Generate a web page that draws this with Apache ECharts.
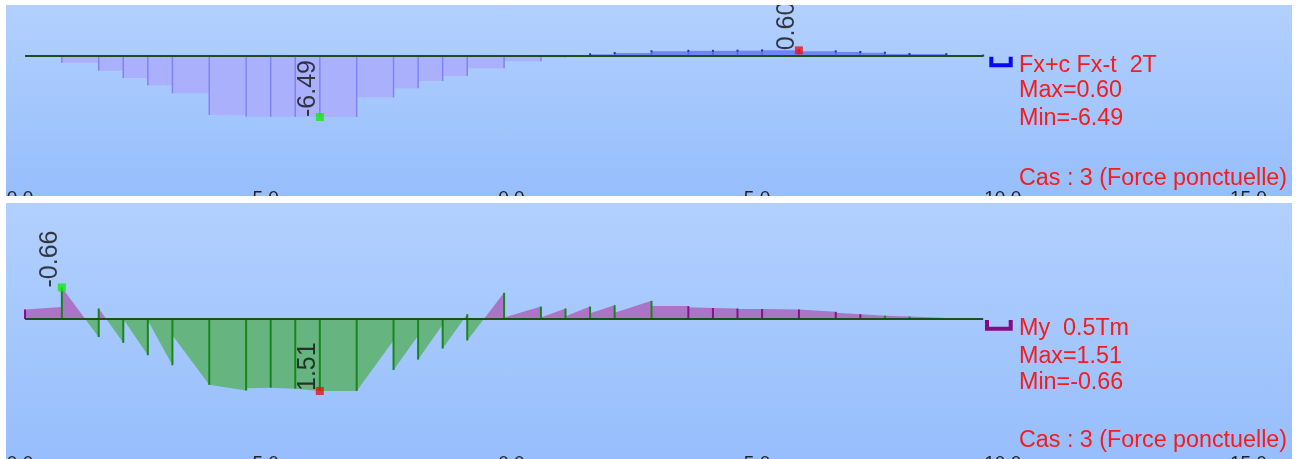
<!DOCTYPE html>
<html><head><meta charset="utf-8">
<script src="https://cdn.jsdelivr.net/npm/echarts@6/dist/echarts.min.js"></script>
<style>
html,body{margin:0;padding:0;background:#fff;width:1303px;height:459px;overflow:hidden}
.panel{position:absolute;left:6px;width:1286px;background:linear-gradient(#b2d0fe,#97befc)}
#top{top:5px;height:191px}
#bot{top:203px;height:256px}
</style></head><body>
<div id="top" class="panel"></div><div id="bot" class="panel"></div>
<script>
// ---------- DATA ----------
const nodes = [0,0.75,1.5,2.0,2.5,3.0,3.75,4.5,5.0,5.5,6.0,6.75,7.5,8.0,8.5,9.0,9.75,10.5,11.0,11.5,12.0,12.75,13.5,14.0,14.5,15.0,15.75,16.5,17.0,17.5,18.0,18.75,19.5];
// Fx per element (constant along element)
const fxValues = [0,-0.71,-1.56,-2.34,-3.12,-3.97,-6.28,-6.45,-6.47,-6.49,-6.49,-4.40,-3.44,-2.66,-2.13,-1.30,-0.56,-0.15,-0.03,0.18,0.32,0.50,0.55,0.55,0.57,0.60,0.50,0.43,0.35,0.22,0.20,0.05];
// My at element start / end
const myStart = [-0.20,-0.66,-0.22,0.00,0.03,0.34,1.38,1.45,1.44,1.46,1.51,1.51,1.07,0.85,0.62,0.45,-0.03,-0.03,-0.06,-0.12,-0.13,-0.27,-0.245,-0.23,-0.21,-0.21,-0.20,-0.13,-0.10,-0.07,-0.05,0.02];
const myEnd   = [-0.25,0.38,0.50,0.76,0.97,1.38,1.50,1.44,1.46,1.51,1.51,0.45,0.35,0.12,-0.10,-0.55,-0.26,-0.22,-0.26,-0.29,-0.38,-0.27,-0.23,-0.22,-0.21,-0.20,-0.15,-0.10,-0.07,-0.05,-0.02,0.00];
const tickValues = [0,5,10,15,20,25];
const tickLabels = ['0.0','5.0','0.0','5.0','10.0','15.0'];
const fxExtremes = {max:[15.75,0.60], min:[6.0,-6.49]};
const myExtremes = {max:[6.0,1.51], min:[0.75,-0.66]};
const fxText = ['Fx+c Fx-t  2T','Max=0.60','Min=-6.49','Cas : 3 (Force ponctuelle)'];
const myText = ['My  0.5Tm','Max=1.51','Min=-0.66','Cas : 3 (Force ponctuelle)'];
const myPurpleNodes = [0,22,23,24,25,26,27,28];

// ---------- HELPERS ----------
const FONT = '"Liberation Sans", Arial, sans-serif';
function elemData(startArr, endArr){
  return startArr.map((v,i)=>[nodes[i],nodes[i+1],v,endArr[i]]);
}
function nodeData(startArr,endArr){
  return nodes.map((x,i)=>{
    const vals=[0];
    if(i>0) vals.push(endArr[i-1]);
    if(i<startArr.length) vals.push(startArr[i]);
    return [x,Math.min(...vals),Math.max(...vals),i];
  });
}
function elemRender(posColor,negColor){
  return function(params,api){
    const x0=api.value(0),x1=api.value(1),v0=api.value(2),v1=api.value(3);
    const pieces=[];
    if(v0*v1<0){const xc=x0+(x1-x0)*v0/(v0-v1);pieces.push([x0,xc,v0,0],[xc,x1,0,v1]);}
    else pieces.push([x0,x1,v0,v1]);
    const children=pieces.map(p=>{
      const s=p[2]+p[3];
      return {type:'polygon',silent:true,shape:{points:[api.coord([p[0],0]),api.coord([p[0],p[2]]),api.coord([p[1],p[3]]),api.coord([p[1],0])]},
        style:{fill:s>=0?posColor:negColor}};
    });
    return {type:'group',children};
  };
}
function nodeRender(colorFn,width,dotColor){
  return function(params,api){
    const x=api.value(0),lo=api.value(1),hi=api.value(2),i=api.value(3);
    if(hi-lo<1e-9) return null;
    const a=api.coord([x,lo]),b=api.coord([x,hi]);
    const children=[{type:'line',silent:true,shape:{x1:a[0],y1:a[1],x2:b[0],y2:b[1]},style:{stroke:colorFn(i,lo,hi),lineWidth:width}}];
    if(dotColor && hi>0){
      children.push({type:'rect',silent:true,shape:{x:b[0]-1,y:b[1]-1,width:2,height:2},style:{fill:dotColor}});
    }
    return {type:'group',children};
  };
}
function textLines(lines,x,baselines){
  return lines.map((t,i)=>({type:'text',x:x,y:baselines[i]-8,silent:true,
    style:{text:t,fill:'#f41c1c',font:'23.3px '+FONT,verticalAlign:'middle',align:'left'}}));
}
function build(el,cfg){
  const chart=echarts.init(el,null,{renderer:'canvas'});
  const W=el.clientWidth,H=el.clientHeight;
  const gl=19,gw=1253,gb=cfg.gridBottom,gh=H-gb;
  const ymin=cfg.inverse? -cfg.base/cfg.ppu : -(gh-cfg.base)/cfg.ppu;
  const ymax=cfg.inverse? (gh-cfg.base)/cfg.ppu : cfg.base/cfg.ppu;
  const extremes=[
    {value:cfg.ext.min,itemStyle:{color:cfg.minColor}},
    {value:cfg.ext.max,itemStyle:{color:cfg.maxColor}}
  ];
  chart.setOption({
    animation:false,
    backgroundColor:'transparent',
    grid:{left:gl,width:gw,top:0,bottom:gb,containLabel:false,outerBoundsMode:'none'},
    xAxis:{type:'value',min:0,max:25.5,interval:5,
      axisLine:{show:false},axisTick:{show:false},splitLine:{show:false},
      axisLabel:{showMaxLabel:false,hideOverlap:false,margin:cfg.labelMargin,color:'#222',fontSize:19,fontFamily:FONT,
        padding:[0,10,0,0],
        formatter:v=>{const k=tickValues.indexOf(v);return k>=0?tickLabels[k]:'';}}},
    yAxis:{type:'value',min:ymin,max:ymax,inverse:!!cfg.inverse,show:false},
    series:[
      {type:'custom',renderItem:elemRender(cfg.posFill,cfg.negFill),data:cfg.elems,z:2},
      {type:'custom',renderItem:nodeRender(cfg.nodeColor,cfg.nodeWidth,cfg.dotColor),data:cfg.nodes,z:3},
      {type:'line',data:[[nodes[0],0],[nodes[nodes.length-1],0]],symbol:'none',
        lineStyle:{color:'#1c4f1c',width:2},z:4,silent:true},
      {type:'scatter',data:extremes,symbol:'rect',symbolSize:8,z:5,silent:true,
        label:{show:true,formatter:p=>p.value[1].toFixed(2),rotate:90,position:[5,4],
          align:'left',verticalAlign:'bottom',fontSize:25,fontFamily:FONT,color:'#111'}}
    ],
    graphic:[
      {type:'polyline',silent:true,shape:{points:cfg.icon},style:{stroke:cfg.iconColor,lineWidth:4,fill:null}},
      ...textLines(cfg.text,1013,cfg.baselines)
    ]
  });
}

build(document.getElementById('top'),{
  gridBottom:8,labelMargin:1,base:51,ppu:9.4,inverse:false,
  elems:elemData(fxValues,fxValues),nodes:nodeData(fxValues,fxValues),
  posFill:'#7084f6',negFill:'#aab0fc',
  nodeColor:(i,lo,hi)=> hi>0?'#5a66f0':'#7f84f4',nodeWidth:1.5,dotColor:'#1f2fd0',
  ext:{min:fxExtremes.min,max:fxExtremes.max},minColor:'#12e812',maxColor:'#f01010',
  icon:[[985.3,51.7],[985.3,60.3],[1004.7,60.3],[1004.7,51.7]],iconColor:'#0a0af0',
  text:fxText,baselines:[68.3,94,122,181.7]
});
build(document.getElementById('bot'),{
  gridBottom:8,labelMargin:3,base:116,ppu:47.7,inverse:true,
  elems:elemData(myStart,myEnd),nodes:nodeData(myStart,myEnd),
  posFill:'#66b47f',negFill:'#aa74c8',
  nodeColor:(i)=> myPurpleNodes.indexOf(i)>=0?'#86108a':'#1a841f',nodeWidth:2,dotColor:null,
  ext:{min:myExtremes.min,max:myExtremes.max},minColor:'#12e812',maxColor:'#f01010',
  icon:[[981,117],[981,125.7],[1004.7,125.7],[1004.7,117]],iconColor:'#860a86',
  text:myText,baselines:[133.7,161.3,187.7,245.3]
});
</script>
</body></html>
